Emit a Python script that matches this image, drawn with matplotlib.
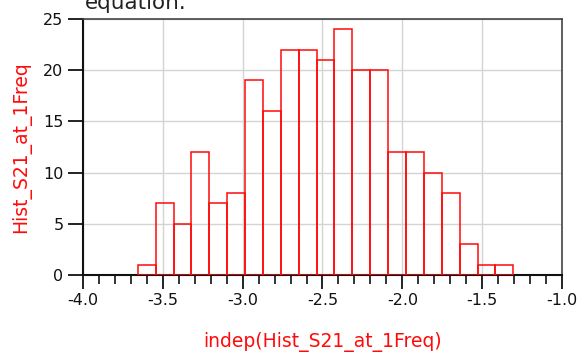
import matplotlib
matplotlib.use("Agg")
import matplotlib.pyplot as plt
from matplotlib.ticker import MultipleLocator
import numpy as np

# histogram data
hist_start = -3.657
hist_step = 0.112
counts = [1, 7, 5, 12, 7, 8, 19, 16, 22, 22, 21, 24, 20, 20, 12, 12, 10, 8, 3, 1, 1]

x_ticks = [-4.0, -3.5, -3.0, -2.5, -2.0, -1.5, -1.0]
x_ticklabels = ["-4.0", "-3.5", "-3.0", "-2.5", "-2.0", "-1.5", "-1.0"]
y_ticks = [0, 5, 10, 15, 20, 25]

plt.rcParams["font.family"] = ["DejaVu Sans"]

fig = plt.figure(figsize=(5.78, 3.54), dpi=100)
ax = fig.add_axes([0.1436, 0.2232, 0.8287, 0.7231])

lefts = hist_start + hist_step * np.arange(len(counts))
ax.bar(lefts, counts, width=hist_step, align="edge", fill=False,
       edgecolor="#ff0a0a", linewidth=1.1, zorder=3)

ax.set_xlim(-4.0, -1.0)
ax.set_ylim(0, 25)
ax.set_xticks(x_ticks)
ax.set_xticklabels(x_ticklabels)
ax.set_yticks(y_ticks)
ax.xaxis.set_minor_locator(MultipleLocator(0.1))

ax.grid(True, which="major", color="#d4d4d4", linewidth=1.0, zorder=0)
ax.set_axisbelow(True)

for side in ["left", "bottom"]:
    ax.spines[side].set_color("#111111")
    ax.spines[side].set_linewidth(1.5)
for side in ["top", "right"]:
    ax.spines[side].set_color("#444444")
    ax.spines[side].set_linewidth(1.2)

ax.tick_params(axis="y", which="major", length=11, width=1.3, pad=3,
               labelsize=11.5, colors="#111111")
ax.tick_params(axis="x", which="major", length=10, width=1.3, pad=3,
               labelsize=11.5, colors="#111111")
ax.tick_params(axis="x", which="minor", length=6.5, width=1.2, colors="#111111")

ax.set_xlabel("indep(Hist_S21_at_1Freq)", color="#ff0a0a", fontsize=13.5)
ax.xaxis.set_label_coords(0.5, -0.222)
ax.set_ylabel("Hist_S21_at_1Freq", color="#ff0a0a", fontsize=13.5)
ax.yaxis.set_label_coords(-0.108, 0.5)

# title cut off at the top edge of the image
fig.text(0.147, 0.975, "equation.", fontsize=15.5, color="#222222",
         va="baseline", ha="left")

fig.savefig("out.png", dpi=100)
